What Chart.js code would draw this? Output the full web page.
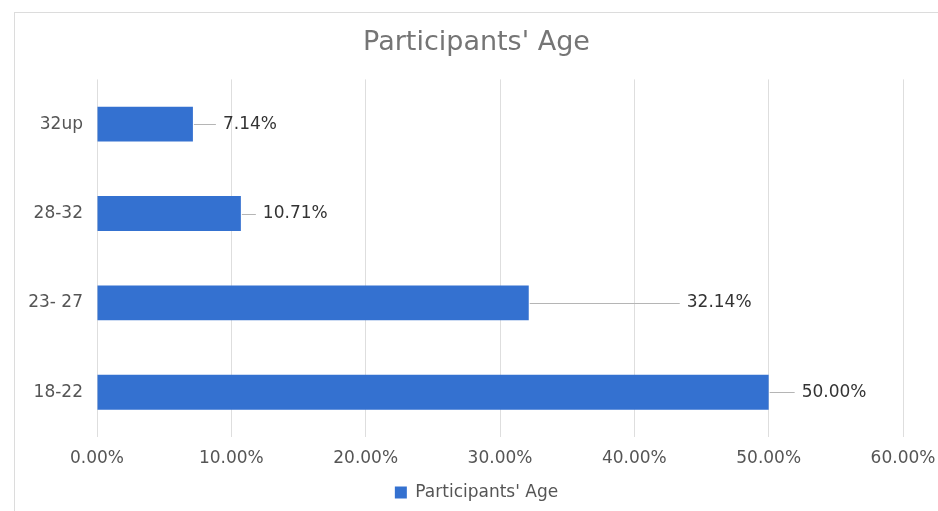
<!DOCTYPE html>
<html>
<head>
<meta charset="utf-8">
<script src="https://cdn.jsdelivr.net/npm/chart.js@4/dist/chart.umd.min.js"></script>
<style>
  html, body { margin: 0; padding: 0; background: #fff; }
  body { width: 938px; height: 511px; position: relative; overflow: hidden; }
  #frame { position: absolute; left: 14px; top: 12px; width: 940px; height: 520px; border: 1px solid #dcdcdc; box-sizing: border-box; }
  #wrap { position: absolute; left: 15px; top: 13px; width: 923px; height: 498px; }
</style>
</head>
<body>
<div id="frame"></div>
<div id="wrap"><canvas id="c"></canvas></div>
<script>
const categories = ['32up', '28-32', '23- 27', '18-22'];
const ageShare = [7.14, 10.71, 32.14, 50.00];
const seriesName = "Participants' Age";
const xTicks = [0, 10, 20, 30, 40, 50, 60];

const labelGap = [30, 22, 158, 33]; // pixel distance from bar end to label start
const FONT = '"DejaVu Sans", "Liberation Sans", Arial, sans-serif';

const leaderLabels = {
  id: 'leaderLabels',
  afterDatasetsDraw(chart) {
    const ctx = chart.ctx;
    const meta = chart.getDatasetMeta(0);
    ctx.save();
    ctx.font = '17px ' + FONT;
    ctx.textBaseline = 'middle';
    ctx.textAlign = 'left';
    meta.data.forEach((bar, i) => {
      const v = chart.data.datasets[0].data[i];
      const x0 = bar.x;
      const tx = x0 + labelGap[i];
      ctx.strokeStyle = '#b5b5b5';
      ctx.lineWidth = 1;
      ctx.beginPath();
      ctx.moveTo(x0 + 1, Math.round(bar.y) + 0.5);
      ctx.lineTo(tx - 7, Math.round(bar.y) + 0.5);
      ctx.stroke();
      ctx.fillStyle = '#333';
      ctx.fillText(v.toFixed(2) + '%', tx, bar.y);
    });
    ctx.restore();
  }
};

new Chart(document.getElementById('c'), {
  type: 'bar',
  data: {
    labels: categories,
    datasets: [{
      label: seriesName,
      data: ageShare,
      backgroundColor: '#3471d0',
      borderWidth: 0,
      categoryPercentage: 0.78,
      barPercentage: 0.5
    }]
  },
  options: {
    indexAxis: 'y',
    responsive: true,
    maintainAspectRatio: false,
    animation: false,
    layout: { padding: 0 },
    scales: {
      x: {
        min: 0, max: 60,
        afterBuildTicks(scale) { scale.ticks = xTicks.map(v => ({ value: v })); },
        afterFit(scale) { scale.height = 37; scale.paddingLeft = 0; scale.paddingRight = 35; },
        grid: { color: '#dedede', drawTicks: false },
        border: { display: false },
        ticks: {
          padding: 11,
          color: '#555',
          font: { family: FONT, size: 17 },
          callback: v => Number(v).toFixed(2) + '%'
        }
      },
      y: {
        afterFit(scale) { scale.width = 82; scale.paddingTop = 0; scale.paddingBottom = 0; },
        grid: { display: false, drawTicks: false },
        border: { display: false },
        ticks: {
          padding: 14,
          color: '#555',
          font: { family: FONT, size: 17 }
        }
      }
    },
    plugins: {
      title: {
        display: true,
        text: seriesName,
        color: '#757575',
        font: { family: FONT, size: 27, weight: 'normal' },
        padding: { top: 14, bottom: 20 }
      },
      legend: {
        position: 'bottom',
        labels: {
          boxWidth: 12, boxHeight: 12, padding: 10,
          color: '#555',
          font: { family: FONT, size: 17 }
        }
      },
      tooltip: { enabled: false }
    }
  },
  plugins: [leaderLabels]
});
</script>
</body>
</html>
